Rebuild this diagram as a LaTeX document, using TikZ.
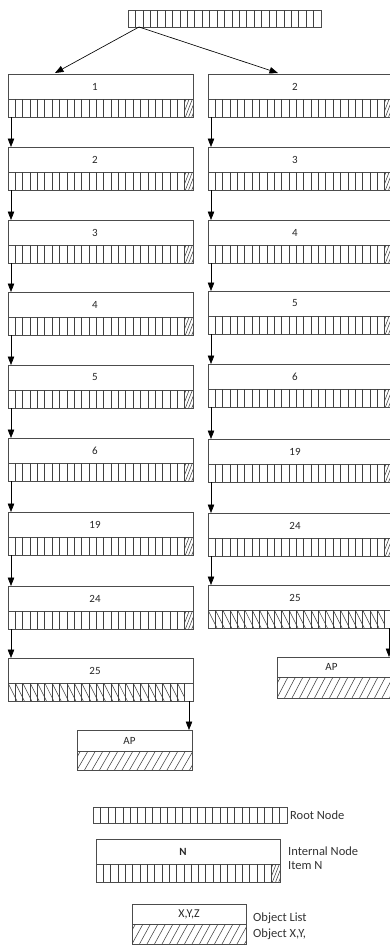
\documentclass[tikz,border=0pt]{standalone}
\usepackage{fontspec}
\setmainfont{Carlito}
\usetikzlibrary{arrows.meta,calc}

\tikzset{
  boxln/.style={draw=black!70, line width=0.75pt},
  hdr/.style={boxln, rectangle, inner sep=0pt, outer sep=0pt, anchor=north west,
    font=\fontsize{11}{13}\selectfont, text=black!85},
  rowb/.style={boxln, rectangle, inner sep=0pt, outer sep=0pt, anchor=north west},
  cellln/.style={draw=black!75, line width=0.65pt},
  hatchln/.style={draw=black!75, line width=0.55pt},
  arr/.style={draw=black, line width=0.65pt, -{Triangle[width=6.5pt,length=8.5pt]}},
  lgd/.style={anchor=west, inner sep=0pt, font=\fontsize{12.5}{14}\selectfont, text=black!80},
}

% internal node: name, x, y, width, label, type (0 normal, 1 hatched)
\newcommand{\inod}[6]{%
  \node[hdr, minimum width=#4pt, minimum height=25pt] (#1h) at (#2,#3) {#5\hspace*{11pt}};
  \node[rowb, minimum width=#4pt, minimum height=18pt] (#1r) at (#1h.south west) {};
  \pgfmathsetmacro\mycw{(#4-8.3)/24}
  \foreach \i in {1,...,24}
    \draw[cellln] ($(#1r.north west)+(\i*\mycw,0)$) -- ($(#1r.south west)+(\i*\mycw,0)$);
  \ifnum#6=0
    \begin{scope}
      \clip ($(#1r.north east)+(-8.3,0)$) rectangle (#1r.south east);
      \foreach \k in {0,...,4}
        \draw[hatchln] ($(#1r.south east)+(-14+\k*3.2,0)$) -- ++(7,-18);
    \end{scope}
  \else
    \begin{scope}
      \clip (#1r.north west) rectangle ($(#1r.south west)+(24*\mycw,0)$);
      \foreach \k in {0,...,24}
        \draw[hatchln] ($(#1r.north west)+(\k*\mycw,0)$) -- ++(9,18);
    \end{scope}
  \fi
}

% object list: name, x, y, width, header h, row h, label
\newcommand{\onod}[7]{%
  \node[hdr, minimum width=#4pt, minimum height=#5pt] (#1h) at (#2,#3) {#7};
  \node[rowb, minimum width=#4pt, minimum height=#6pt] (#1r) at (#1h.south west) {};
  \begin{scope}
    \clip (#1r.north west) rectangle (#1r.south east);
    \foreach \k in {-2,...,17}
      \draw[hatchln] ($(#1r.south west)+(\k*7.5,0)$) -- ++(11,-#6);
  \end{scope}
}

% root-type row: name, x, y, width, height, cells
\newcommand{\rnod}[6]{%
  \node[rowb, minimum width=#4pt, minimum height=#5pt] (#1) at (#2,#3) {};
  \pgfmathsetmacro\myrw{#4/#6}
  \pgfmathtruncatemacro\mylast{#6-1}
  \foreach \i in {1,...,\mylast}
    \draw[cellln] ($(#1.north west)+(\i*\myrw,0)$) -- ($(#1.south west)+(\i*\myrw,0)$);
}

\begin{document}
\begin{tikzpicture}[x=1pt, y=-1pt]
  \useasboundingbox (0,0) rectangle (390,945);

  % root
  \rnod{root}{128}{10}{193}{17}{26}

  % left column
  \inod{La}{8}{74}{185}{1}{0}
  \inod{Lb}{8}{147}{185}{2}{0}
  \inod{Lc}{8}{220}{185}{3}{0}
  \inod{Ld}{8}{292}{185}{4}{0}
  \inod{Le}{8}{365}{185}{5}{0}
  \inod{Lf}{8}{438}{185}{6}{0}
  \inod{Lg}{8}{512}{185}{19}{0}
  \inod{Lh}{8}{586}{185}{24}{0}
  \inod{Li}{8}{658}{185}{25}{1}
  \onod{LAP}{77}{730}{115}{21}{19}{AP\hspace*{10pt}}

  % right column
  \inod{Ra}{208}{74}{185}{2}{0}
  \inod{Rb}{208}{147}{185}{3}{0}
  \inod{Rc}{208}{220}{185}{4}{0}
  \inod{Rd}{208}{291}{185}{5}{0}
  \inod{Re}{208}{364}{185}{6}{0}
  \inod{Rf}{208}{439}{185}{19}{0}
  \inod{Rg}{208}{513}{185}{24}{0}
  \inod{Rh}{208}{585}{185}{25}{1}
  \onod{RAP}{277}{657}{115}{20}{21}{AP\hspace*{6pt}}

  % root arrows
  \draw[arr] ($(root.south west)+(11,0)$) -- ($(Lah.north west)+(47,-1)$);
  \draw[arr] ($(root.south west)+(11,0)$) -- ($(Rah.north west)+(70,-1)$);

  % column arrows
  \foreach \a/\b in {La/Lb,Lb/Lc,Lc/Ld,Ld/Le,Le/Lf,Lf/Lg,Lg/Lh,Lh/Li,
                     Ra/Rb,Rb/Rc,Rc/Rd,Rd/Re,Re/Rf,Rf/Rg,Rg/Rh}{
    \path ($(\a r.south west)+(3,0)$) coordinate (s\a);
    \draw[arr] (s\a) -- (s\a |- \b h.north);
  }
  \path ($(Lir.south east)+(-4,0)$) coordinate (sLi);
  \draw[arr] (sLi) -- (sLi |- LAPh.north);
  \path ($(Rhr.south east)+(-4,0)$) coordinate (sRh);
  \draw[arr] (sRh) -- (sRh |- RAPh.north);

  % legend
  \rnod{lgroot}{93}{807}{194}{16}{26}
  \node[lgd] (tRoot) at (290,815) {Root Node};

  \node[hdr, minimum width=184pt, minimum height=25pt] (lgNh) at (96,839) {\textbf{N}\hspace*{10pt}};
  \node[rowb, minimum width=184pt, minimum height=18pt] (lgNr) at (lgNh.south west) {};
  \pgfmathsetmacro\mycw{(184-8.3)/24}
  \foreach \i in {1,...,24}
    \draw[cellln] ($(lgNr.north west)+(\i*\mycw,0)$) -- ($(lgNr.south west)+(\i*\mycw,0)$);
  \begin{scope}
    \clip ($(lgNr.north east)+(-8.3,0)$) rectangle (lgNr.south east);
    \foreach \k in {0,...,4}
      \draw[hatchln] ($(lgNr.south east)+(-14+\k*3.2,0)$) -- ++(7,-18);
  \end{scope}
  \node[lgd] (tInt) at (288,851) {Internal Node};
  \node[lgd] (tItem) at (288,866) {Item N};

  \onod{lgO}{132}{904}{114}{20}{20}{\fontsize{12}{14}\selectfont X,Y,Z}
  \node[lgd] (tObj) at (253,918) {Object List};
  \node[lgd] (tObjX) at (253,934) {Object X,Y,};
\end{tikzpicture}
\end{document}
